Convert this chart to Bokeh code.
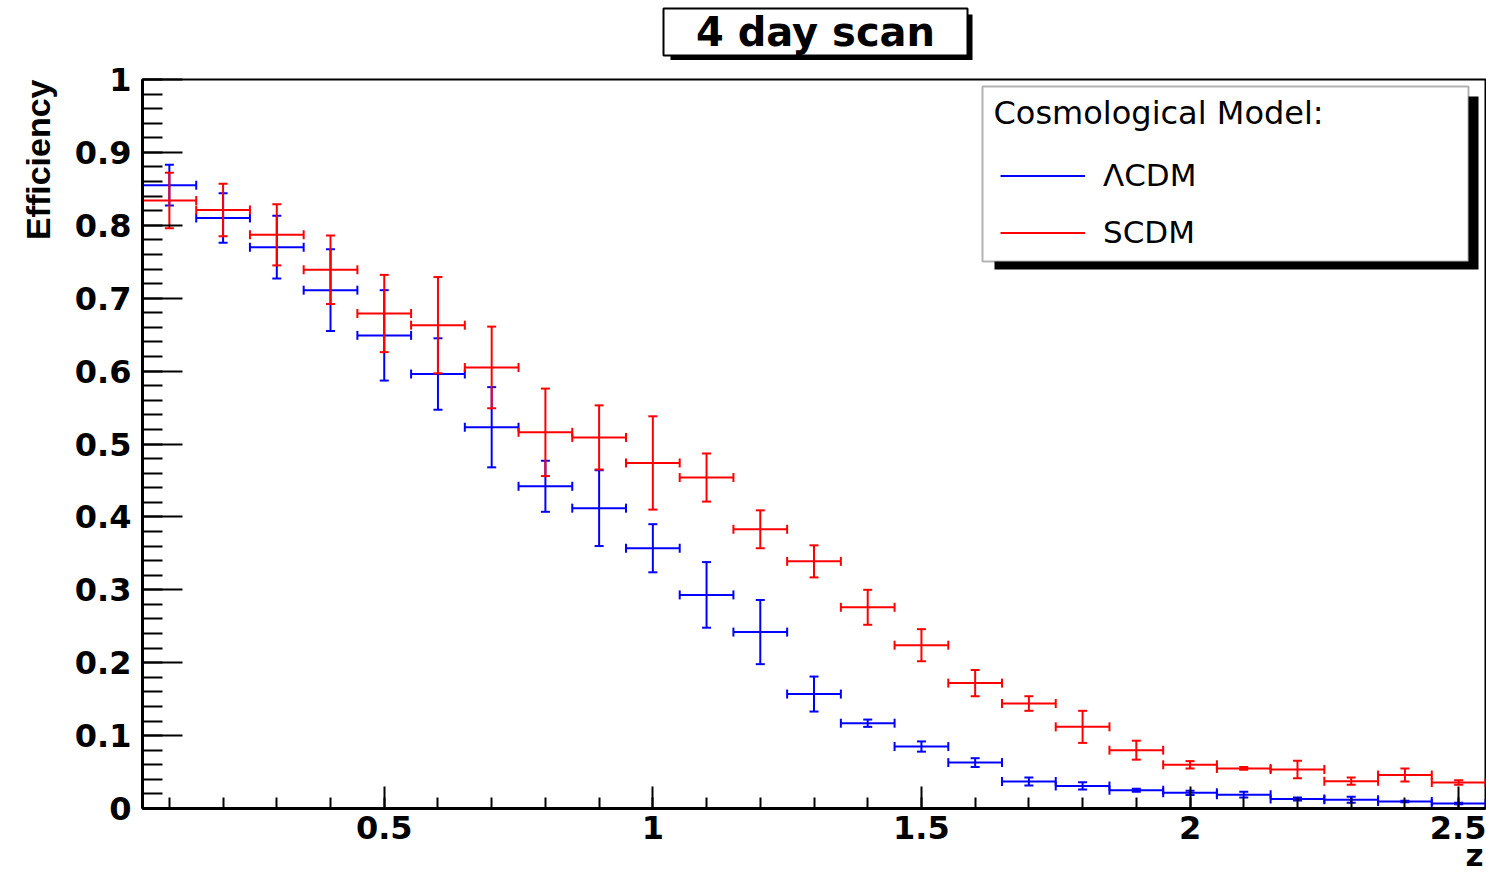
import math
import numpy as np
from bokeh.plotting import figure
from bokeh.layouts import column
from bokeh.models import (ColumnDataSource, Range1d, SingleIntervalTicker,
                          NumeralTickFormatter, Legend, LegendItem, Label,
                          BoxAnnotation, Title)
from bokeh.core.properties import value
from bokeh.embed import file_html
from bokeh.resources import INLINE

# Redshift bin centres (bins are 0.1 wide)
z = [0.1, 0.2, 0.3, 0.4, 0.5, 0.6, 0.7, 0.8, 0.9, 1.0, 1.1, 1.2, 1.3,
     1.4, 1.5, 1.6, 1.7, 1.8, 1.9, 2.0, 2.1, 2.2, 2.3, 2.4, 2.5]
bin_width = 0.1

# Detection efficiency, Lambda-CDM cosmology
lcdm_eff = [0.855, 0.810, 0.770, 0.711, 0.649, 0.596, 0.523, 0.442, 0.412,
            0.357, 0.293, 0.242, 0.157, 0.117, 0.085, 0.063, 0.037, 0.031,
            0.025, 0.0215, 0.019, 0.013, 0.012, 0.0096, 0.0069]
lcdm_err = [0.028, 0.034, 0.043, 0.056, 0.062, 0.049, 0.055, 0.035, 0.052,
            0.033, 0.045, 0.044, 0.024, 0.005, 0.007, 0.006, 0.0055, 0.005,
            0.002, 0.003, 0.004, 0.002, 0.004, 0.001, 0.001]

# Detection efficiency, standard CDM cosmology
scdm_eff = [0.834, 0.821, 0.787, 0.739, 0.679, 0.663, 0.605, 0.516, 0.509,
            0.474, 0.454, 0.383, 0.339, 0.276, 0.224, 0.172, 0.144, 0.112,
            0.080, 0.060, 0.055, 0.0535, 0.0375, 0.046, 0.0357]
scdm_err = [0.038, 0.036, 0.042, 0.047, 0.053, 0.066, 0.056, 0.060, 0.044,
            0.064, 0.033, 0.026, 0.022, 0.024, 0.022, 0.018, 0.010, 0.022,
            0.013, 0.005, 0.002, 0.012, 0.005, 0.009, 0.003]

series_labels = ["\u039bCDM", "SCDM"]
series_colors = ["#0000ff", "#ff0000"]

W, H = 1486, 878
FRAME_T, FRAME_B, FRAME_L, FRAME_R = 79, 808, 142, 1485   # frame edges, page px
TOP_H = 60              # title strip height
TOP_PAD = FRAME_T - TOP_H
BOT_PAD = H - FRAME_B

# ---- title strip: boxed title with a drop shadow -------------------------
# frame lines up with the main plot; data coordinates are page pixels
tf = figure(width=W, height=TOP_H, output_backend="svg",
            toolbar_location=None, title=None,
            x_range=Range1d(FRAME_L, FRAME_R), y_range=Range1d(TOP_H, 0),
            x_axis_location=None, y_axis_location=None,
            min_border_left=FRAME_L, min_border_right=W - FRAME_R,
            min_border_top=0, min_border_bottom=0)
tf.grid.visible = False
tf.outline_line_color = None
tf.background_fill_color = "white"
tf.border_fill_color = "white"
tf.quad(left=[670], right=[972], top=[14], bottom=[60],
        fill_color="black", line_color=None)
tf.quad(left=[663], right=[967], top=[8], bottom=[55],
        fill_color="white", line_color="black", line_width=2)
tf.text(x=[815], y=[31.5], text=["4 day scan"], text_align="center",
        text_baseline="middle", text_font=value("DejaVu Sans"),
        text_font_style="bold", text_font_size=value("40px"), text_color="black")

# ---- main plot ----------------------------------------------------------
p = figure(width=W, height=H - TOP_H, output_backend="svg",
           toolbar_location=None, title=None,
           x_range=Range1d(0.05, 2.55), y_range=Range1d(0.0, 1.0),
           min_border_left=FRAME_L, min_border_right=W - FRAME_R,
           min_border_top=TOP_PAD, min_border_bottom=BOT_PAD)
p.grid.visible = False
p.background_fill_color = "white"
p.border_fill_color = "white"
p.outline_line_color = "black"
p.outline_line_width = 2

p.xaxis.ticker = SingleIntervalTicker(interval=0.5, num_minor_ticks=5)
p.yaxis.ticker = SingleIntervalTicker(interval=0.1, num_minor_ticks=5)
p.axis.formatter = NumeralTickFormatter(format="0.[0]")
p.axis.axis_line_width = 3
p.axis.axis_line_color = "black"
p.axis.major_tick_line_width = 2
p.axis.minor_tick_line_width = 2
p.axis.major_tick_line_color = "black"
p.axis.minor_tick_line_color = "black"
p.axis.major_tick_out = 0
p.axis.minor_tick_out = 0
p.yaxis.major_tick_in = 40
p.yaxis.minor_tick_in = 20
p.xaxis.major_tick_in = 22
p.xaxis.minor_tick_in = 11
p.axis.major_label_text_font = "DejaVu Sans"
p.axis.major_label_text_font_style = "bold"
p.axis.major_label_text_font_size = "32px"
p.axis.major_label_text_color = "black"
p.yaxis.major_label_standoff = 11
p.xaxis.major_label_standoff = 7


def draw_series(eff, err, color):
    zc = np.array(z)
    e = np.array(eff)
    de = np.array(err)
    half = bin_width / 2
    src = ColumnDataSource(dict(
        z=zc, eff=e, xlo=zc - half, xhi=zc + half, ylo=e - de, yhi=e + de))
    hbar = p.segment(x0="xlo", x1="xhi", y0="eff", y1="eff", source=src,
                     line_color=color, line_width=2)
    p.segment(x0="z", x1="z", y0="ylo", y1="yhi", source=src,
              line_color=color, line_width=2)
    # end caps on the bin-width bars
    for col in ("xlo", "xhi"):
        p.scatter(x=col, y="eff", source=src, marker="dash", size=9,
                  angle=math.pi / 2, line_color=color, line_width=2)
    # end caps on the error bars
    for col in ("ylo", "yhi"):
        p.scatter(x="z", y=col, source=src, marker="dash", size=9,
                  line_color=color, line_width=2)
    return hbar


r_lcdm = draw_series(lcdm_eff, lcdm_err, series_colors[0])
r_scdm = draw_series(scdm_eff, scdm_err, series_colors[1])


def fx(px):
    return px - FRAME_L


def fy(py):
    return FRAME_B - py


def screen_box(l, r, t, b, **kw):
    return BoxAnnotation(left=fx(l), right=fx(r), top=fy(t), bottom=fy(b),
                         left_units="screen", right_units="screen",
                         top_units="screen", bottom_units="screen", **kw)


# Legend frame with drop shadow
p.add_layout(screen_box(994, 1478, 96, 269, fill_color="black", fill_alpha=1,
                        line_alpha=0))
p.add_layout(screen_box(982, 1468, 86, 261, fill_color="white", fill_alpha=1,
                        line_color="black", line_width=2))
p.add_layout(Label(x=fx(993), y=fy(112), x_units="screen", y_units="screen",
                   text="Cosmological Model:", text_align="left",
                   text_baseline="alphabetic", text_font="DejaVu Sans",
                   text_font_size="32px", text_color="black"))

legend = Legend(items=[LegendItem(label=series_labels[0], renderers=[r_lcdm]),
                       LegendItem(label=series_labels[1], renderers=[r_scdm])],
                location=(fx(1000), fy(260.5)),
                padding=0, margin=0, spacing=0,
                glyph_width=85, glyph_height=57, label_height=57,
                label_standoff=18,
                label_text_font="DejaVu Sans", label_text_font_size="31px",
                label_text_color="black",
                border_line_alpha=0, background_fill_alpha=0)
p.add_layout(legend)

# Axis titles at the far ends of the axes
p.add_layout(Title(text="Efficiency", align="right", vertical_align="bottom",
                   text_font="Liberation Sans", text_font_style="bold",
                   text_font_size="34px", text_color="black",
                   standoff=30, offset=0), "left")
p.add_layout(Title(text="z", align="right", vertical_align="bottom",
                   text_font="DejaVu Sans", text_font_style="bold",
                   text_font_size="31px", text_color="black",
                   standoff=-14, offset=2), "below")

open("out.html", "w").write(file_html(column(tf, p), INLINE))
